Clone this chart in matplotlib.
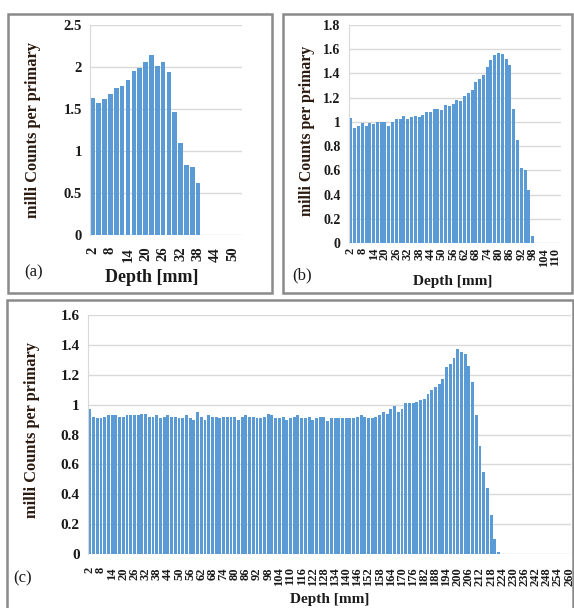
import numpy as np
import matplotlib
matplotlib.use('Agg')
from matplotlib import pyplot as plt
from matplotlib.patches import Rectangle

plt.rcParams['font.family'] = 'Liberation Serif'

# panel (a): depth 2..50 mm, bars up to 38 mm
depth_a = list(range(2, 52, 2))
counts_a = [1.63, 1.57, 1.62, 1.68, 1.75, 1.77, 1.84, 1.95, 1.99, 2.06,
            2.14, 2.01, 2.06, 1.94, 1.46, 1.10, 0.83, 0.81, 0.62]

# panel (b): depth 2..110 mm, bars up to 98 mm
depth_b = list(range(2, 112, 2))
counts_b = [1.03, 0.95, 0.97, 0.99, 0.97, 0.99, 0.98, 1.00, 1.00, 1.00,
            0.97, 1.00, 1.02, 1.02, 1.05, 1.02, 1.04, 1.05, 1.04, 1.06,
            1.08, 1.08, 1.11, 1.11, 1.10, 1.14, 1.13, 1.15, 1.18, 1.17,
            1.21, 1.24, 1.26, 1.33, 1.35, 1.39, 1.45, 1.51, 1.55, 1.57,
            1.56, 1.52, 1.47, 1.11, 0.85, 0.62, 0.60, 0.44, 0.055]

# panel (c): depth 2..260 mm, bars up to 222 mm
depth_c = list(range(2, 262, 2))
counts_c = [0.97, 0.92, 0.91, 0.91, 0.92, 0.93, 0.93, 0.93, 0.92, 0.92,
            0.93, 0.93, 0.93, 0.93, 0.94, 0.94, 0.92, 0.92, 0.93, 0.91,
            0.92, 0.93, 0.92, 0.92, 0.91, 0.91, 0.93, 0.91, 0.90, 0.95,
            0.92, 0.90, 0.93, 0.92, 0.92, 0.91, 0.92, 0.92, 0.92, 0.92,
            0.90, 0.92, 0.93, 0.92, 0.92, 0.91, 0.91, 0.92, 0.94, 0.93,
            0.91, 0.91, 0.92, 0.90, 0.91, 0.92, 0.93, 0.91, 0.91, 0.92,
            0.90, 0.91, 0.92, 0.92, 0.89, 0.91, 0.91, 0.91, 0.91, 0.91,
            0.91, 0.91, 0.92, 0.93, 0.92, 0.91, 0.91, 0.92, 0.93, 0.95,
            0.94, 0.97, 0.99, 0.95, 0.97, 1.01, 1.01, 1.01, 1.02, 1.03,
            1.04, 1.07, 1.10, 1.12, 1.14, 1.17, 1.25, 1.27, 1.31, 1.37,
            1.35, 1.34, 1.26, 1.15, 0.93, 0.72, 0.55, 0.44, 0.26, 0.10,
            0.015]

W, H = 574, 608
fig = plt.figure(figsize=(W / 100, H / 100), dpi=100)

BAR = '#5b9bd5'
GRID = '#d9d9d9'
TXT = '#1a1a1a'


def box(x0, y0, x1, y1):
    return [x0 / W, 1 - y1 / H, (x1 - x0) / W, (y1 - y0) / H]


def panel(rect, depth, counts, ymax, ystep, ysize, xsize, xpad, extra, fmt):
    ax = fig.add_axes(box(*rect))
    n = len(depth)
    ax.bar(range(len(counts)), counts, width=0.78, color=BAR, zorder=2)
    ax.set_xlim(-0.5, n - 0.5 + extra)
    ax.set_ylim(0, ymax)
    yt = np.arange(0, ymax + ystep / 2, ystep)
    ax.set_yticks(yt)
    ax.set_yticklabels([fmt(v) for v in yt], fontsize=ysize,
                       fontweight='bold', color=TXT)
    idx = list(range(0, n, 3))
    ax.set_xticks(idx)
    ax.set_xticklabels([str(depth[i]) for i in idx], rotation=90,
                       fontsize=xsize, fontweight='bold', color=TXT)
    ax.tick_params(axis='y', length=0, pad=6)
    ax.tick_params(axis='x', length=0, pad=xpad)
    ax.grid(axis='y', color=GRID, lw=1, zorder=0)
    for s in ['top', 'right', 'bottom']:
        ax.spines[s].set_visible(False)
    ax.spines['left'].set_color(GRID)
    return ax


def fmt(v):
    s = ('%.1f' % v)
    return s[:-2] if s.endswith('.0') else s


panel((90, 25, 242, 235), depth_a, counts_a, 2.5, 0.5, 10.5, 10.5, 8.5, 1, fmt)
panel((349, 25, 561, 243), depth_b, counts_b, 1.8, 0.2, 10, 9, 3.5, 1, fmt)
panel((88, 315, 571, 554), depth_c, counts_c, 1.6, 0.2, 11, 9, 9.5, 0, fmt)


def ftext(x, y, s, **kw):
    fig.text(x / W, 1 - y / H, s, **kw)


ylab = 'milli Counts per primary'
ftext(33, 130, ylab, rotation=90, ha='center', va='center', fontsize=11.8,
      fontweight='bold', color='#2a1a10')
ftext(307, 131, ylab, rotation=90, ha='center', va='center', fontsize=11.4,
      fontweight='bold', color='#2a1a10')
ftext(32, 430, ylab, rotation=90, ha='center', va='center', fontsize=11.8,
      fontweight='bold', color='#2a1a10')

ftext(152, 278, 'Depth [mm]', ha='center', va='center', fontsize=13,
      fontweight='bold', color=TXT)
ftext(453, 281, 'Depth [mm]', ha='center', va='center', fontsize=11,
      fontweight='bold', color=TXT)
ftext(330, 600, 'Depth [mm]', ha='center', va='center', fontsize=11,
      fontweight='bold', color=TXT)

ftext(34, 272, '(a)', ha='center', va='center', fontsize=12, color=TXT)
ftext(302, 275, '(b)', ha='center', va='center', fontsize=12, color=TXT)
ftext(23, 578, '(c)', ha='center', va='center', fontsize=12, color=TXT)

for x0, y0, x1, y1 in [(8, 14, 272, 293), (283, 14, 572, 293),
                       (7, 300, 573, 615)]:
    fig.patches.append(Rectangle((x0 / W, 1 - y1 / H), (x1 - x0) / W,
                                 (y1 - y0) / H, transform=fig.transFigure,
                                 fill=False, edgecolor='#8a8a8a', lw=1.8))

plt.savefig('out.png', dpi=100)
plt.close()
